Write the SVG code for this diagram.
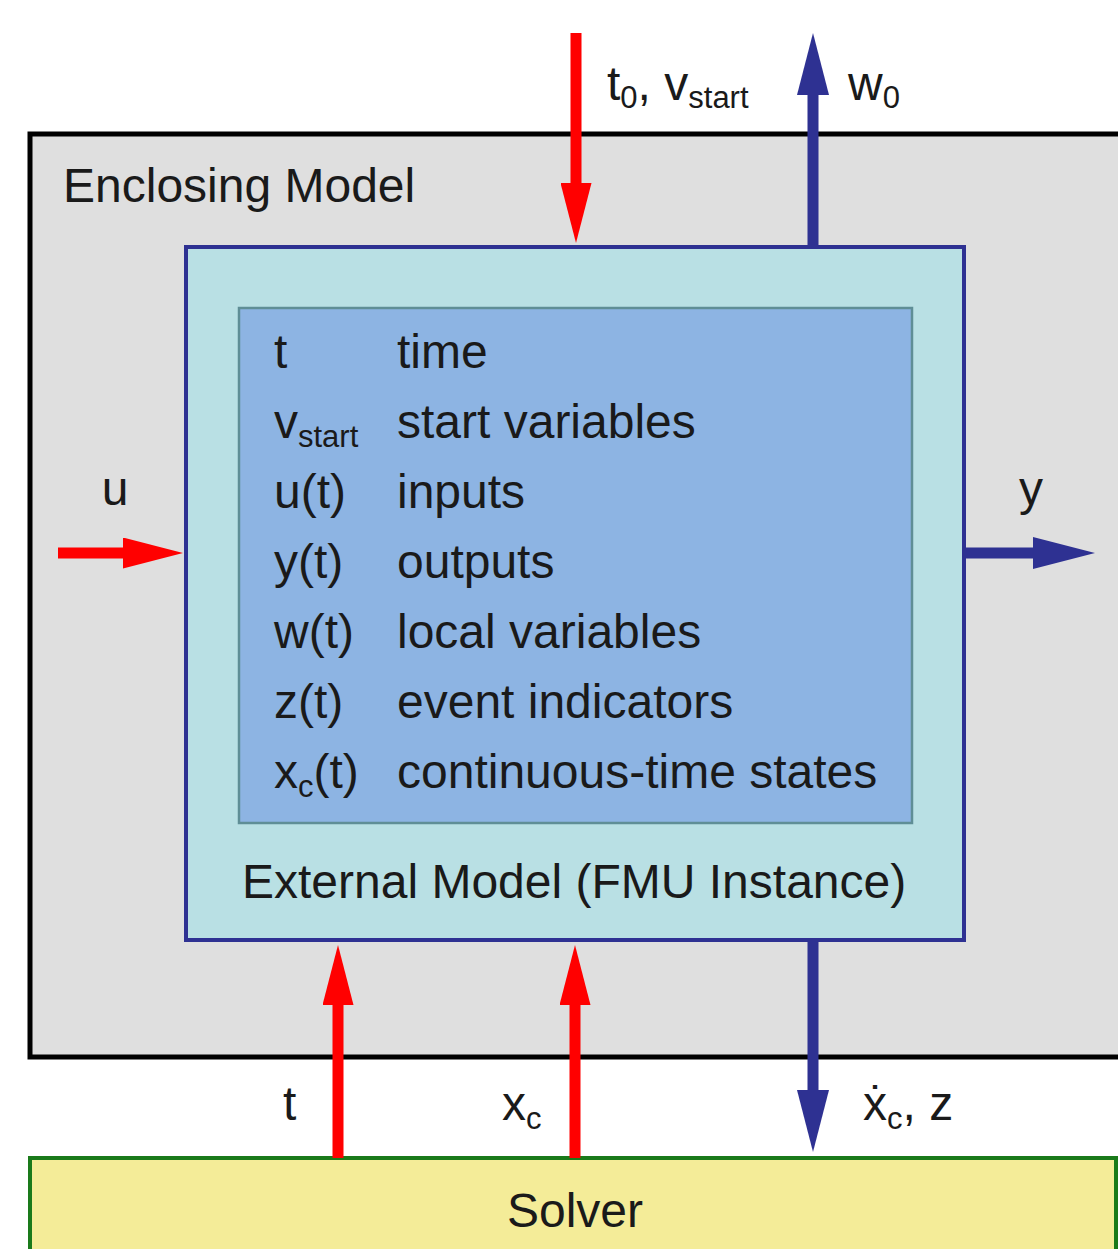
<svg xmlns="http://www.w3.org/2000/svg" width="1118" height="1249" viewBox="0 0 1118 1249">
<style>
text{font-family:"Liberation Sans","DejaVu Sans",Arial,sans-serif;font-size:48px;fill:#1a1a1a}
.sub{font-size:31px}
.red{stroke:#ff0000;stroke-width:11;fill:none}
.blue{stroke:#2e3192;stroke-width:11;fill:none}
</style>
<defs>
<marker id="hRed" markerUnits="userSpaceOnUse" markerWidth="60" markerHeight="31" refX="10" refY="15.5" orient="auto">
<path d="M0,0 L60,15.5 L0,31 z" fill="#ff0000"/>
</marker>
<marker id="hBlue" markerUnits="userSpaceOnUse" markerWidth="62" markerHeight="32" refX="10" refY="16" orient="auto">
<path d="M0,0 L62,16 L0,32 z" fill="#2e3192"/>
</marker>
</defs>
<rect width="1118" height="1249" fill="#ffffff"/>
<g id="enclosing">
<rect x="30" y="134" width="1092" height="923" fill="#dfdfdf" stroke="#000000" stroke-width="5"/>
<text x="63" y="202">Enclosing Model</text>
</g>
<g id="solver">
<rect x="30" y="1158" width="1086" height="100" fill="#f4ec98" stroke="#1a7a1a" stroke-width="4"/>
<text x="575" y="1227" text-anchor="middle">Solver</text>
</g>
<g id="fmu">
<rect x="186" y="247" width="778" height="693" fill="#b9e0e4" stroke="#2e3192" stroke-width="4"/>
<text x="242" y="898">External Model (FMU Instance)</text>
</g>
<g id="variables">
<rect x="239" y="308" width="673" height="515" fill="#8db4e3" stroke="#5f8e96" stroke-width="2.5"/>
<text x="274" y="368">t</text><text x="397" y="368">time</text>
<text x="274" y="438">v<tspan class="sub" dy="9">start</tspan></text><text x="397" y="438">start variables</text>
<text x="274" y="508">u(t)</text><text x="397" y="508">inputs</text>
<text x="274" y="578">y(t)</text><text x="397" y="578">outputs</text>
<text x="274" y="648">w(t)</text><text x="397" y="648">local variables</text>
<text x="274" y="718">z(t)</text><text x="397" y="718">event indicators</text>
<text x="274" y="788">x<tspan class="sub" dy="9">c</tspan><tspan dy="-9">(t)</tspan></text><text x="397" y="788">continuous-time states</text>
</g>
<g id="connectors">
<line class="red" x1="576" y1="33" x2="576" y2="193" marker-end="url(#hRed)"/>
<line class="blue" x1="813" y1="247" x2="813" y2="85" marker-end="url(#hBlue)"/>
<line class="red" x1="58" y1="553" x2="133" y2="553" marker-end="url(#hRed)"/>
<line class="blue" x1="966" y1="553" x2="1043" y2="553" marker-end="url(#hBlue)"/>
<line class="red" x1="338" y1="1158" x2="338" y2="995" marker-end="url(#hRed)"/>
<line class="red" x1="575" y1="1158" x2="575" y2="995" marker-end="url(#hRed)"/>
<line class="blue" x1="813" y1="942" x2="813" y2="1100" marker-end="url(#hBlue)"/>
</g>
<g id="labels">
<text x="607" y="100">t<tspan class="sub" dy="8">0</tspan><tspan dy="-8">, v</tspan><tspan class="sub" dy="8">start</tspan></text>
<text x="848" y="100">w<tspan class="sub" dy="8">0</tspan></text>
<text x="115" y="505" text-anchor="middle">u</text>
<text x="1031" y="505" text-anchor="middle">y</text>
<text x="283" y="1120">t</text>
<text x="502" y="1120">x<tspan class="sub" dy="9">c</tspan></text>
<text x="863" y="1120">ẋ<tspan class="sub" dy="9">c</tspan><tspan dy="-9">, z</tspan></text>
</g>
</svg>
